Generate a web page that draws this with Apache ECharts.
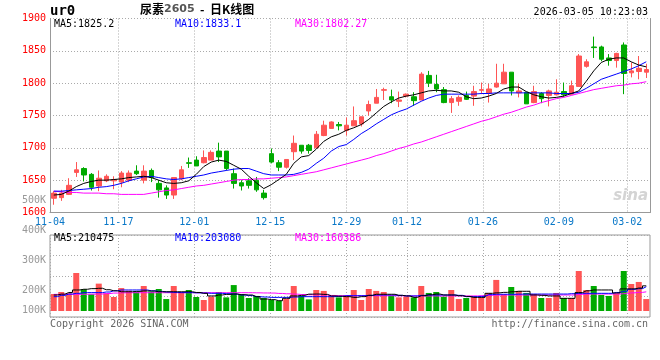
<!DOCTYPE html>
<html><head><meta charset="utf-8">
<script src="https://cdn.jsdelivr.net/npm/echarts@6/dist/echarts.min.js"></script>
<style>html,body{margin:0;padding:0;background:#fff}#c{width:660px;height:360px}</style>
</head><body><div id="c"></div>
<script>
const dates = ['11-04','11-05','11-06','11-07','11-10','11-11','11-12','11-13','11-14','11-17','11-18','11-19','11-20','11-21','11-24','11-25','11-26','11-27','11-28',
'12-01','12-02','12-03','12-04','12-05','12-08','12-09','12-10','12-11','12-12','12-15','12-16','12-17','12-18','12-19','12-22','12-23','12-24','12-25','12-26','12-29','12-30','12-31',
'01-05','01-06','01-07','01-08','01-09','01-12','01-13','01-14','01-15','01-16','01-19','01-20','01-21','01-22','01-23','01-26','01-27','01-28','01-29','01-30',
'02-02','02-03','02-04','02-05','02-06','02-09','02-10','02-11','02-12','02-13','02-24','02-25','02-26','02-27',
'03-02','03-03','03-04','03-05'];
const opens  = [1622,1623,1628,1662,1668,1659,1641,1649,1649,1647,1650,1664,1650,1665,1645,1638,1627,1652,1677,1681,1677,1681,1695,1695,1660,1646,1649,1650,1630,1691,1677,1670,1694,1704,1704,1700,1719,1730,1736,1727,1734,1737,1757,1769,1789,1779,1772,1780,1779,1774,1812,1798,1790,1770,1772,1781,1780,1789,1784,1794,1799,1817,1785,1786,1770,1784,1781,1782,1787,1783,1795,1826,1856,1856,1839,1835,1859,1816,1818,1817];
const closes = [1630,1630,1642,1666,1658,1639,1653,1656,1651,1661,1661,1660,1664,1654,1635,1627,1654,1666,1676,1672,1685,1693,1686,1668,1645,1641,1642,1635,1623,1678,1670,1682,1707,1695,1696,1721,1735,1740,1734,1735,1742,1748,1767,1778,1790,1774,1774,1783,1773,1814,1800,1791,1770,1776,1778,1775,1787,1790,1791,1800,1817,1788,1788,1768,1787,1776,1788,1786,1782,1796,1842,1833,1855,1837,1835,1846,1815,1819,1823,1821];
const lows   = [1612,1618,1627,1655,1648,1634,1633,1647,1636,1639,1647,1658,1645,1647,1623,1621,1621,1650,1669,1672,1676,1681,1678,1665,1637,1634,1637,1632,1620,1676,1664,1668,1681,1691,1691,1699,1718,1730,1727,1719,1734,1733,1750,1769,1774,1769,1763,1778,1765,1774,1794,1786,1769,1754,1765,1774,1765,1783,1770,1793,1799,1781,1778,1768,1769,1769,1764,1781,1779,1782,1795,1824,1839,1834,1827,1824,1783,1809,1806,1808];
const highs  = [1633,1635,1653,1678,1670,1661,1665,1659,1656,1664,1665,1673,1673,1668,1650,1642,1654,1672,1685,1687,1696,1696,1708,1695,1668,1650,1653,1655,1635,1699,1681,1682,1719,1704,1706,1726,1742,1741,1740,1747,1764,1748,1773,1791,1793,1790,1787,1784,1786,1817,1819,1813,1794,1780,1781,1787,1796,1801,1799,1830,1830,1817,1799,1786,1796,1786,1790,1806,1801,1804,1845,1837,1872,1858,1845,1847,1863,1832,1842,1830];
const ma5  = [1627,1628,1633,1640,1645,1648,1650,1650,1651,1652,1654,1655,1656,1654,1650,1646,1645,1646,1649,1659,1671,1678,1681,1679,1673,1667,1656,1646,1637,1643,1651,1659,1676,1686,1688,1698,1710,1717,1721,1727,1731,1736,1744,1754,1764,1771,1777,1780,1782,1785,1788,1789,1788,1788,1786,1779,1776,1777,1780,1784,1791,1794,1794,1787,1782,1779,1777,1778,1780,1784,1788,1803,1819,1832,1837,1839,1839,1833,1828,1825.2];
const ma10 = [1633,1633,1634,1635,1636,1637,1639,1640,1642,1645,1649,1652,1655,1656,1654,1652,1651,1652,1654,1656,1658,1661,1663,1665,1667,1668,1668,1664,1660,1658,1658,1658,1659,1662,1667,1676,1684,1695,1702,1705,1713,1722,1729,1737,1744,1751,1756,1760,1766,1772,1777,1781,1783,1783,1783,1783,1783,1784,1784,1785,1785,1785,1785,1785,1785,1785,1785,1784,1784,1784,1786,1792,1799,1806,1810,1814,1818,1822,1827,1833.1];
const ma30 = [1633,1632,1631,1631,1630,1630,1630,1629,1629,1628,1628,1628,1628,1630,1632,1634,1635,1637,1639,1641,1642,1644,1646,1648,1650,1651,1651,1652,1652,1653,1654,1655,1657,1659,1661,1663,1666,1669,1672,1675,1678,1681,1684,1688,1691,1695,1699,1702,1706,1709,1713,1717,1721,1725,1729,1733,1737,1741,1744,1748,1752,1755,1759,1763,1766,1770,1773,1776,1778,1781,1784,1787,1790,1792,1794,1796,1797,1799,1800,1802.27];
const volumes = [142000,159000,148000,318000,182000,140000,229000,148000,117000,192000,170000,162000,209000,162000,184000,100000,209000,154000,176000,117000,92000,120000,159000,114000,217000,142000,109000,126000,109000,92000,86000,100000,209000,126000,97000,176000,168000,128000,114000,128000,176000,92000,184000,168000,159000,128000,114000,120000,114000,209000,151000,159000,120000,176000,100000,109000,126000,114000,151000,260000,140000,201000,168000,151000,142000,109000,109000,151000,109000,109000,335000,176000,209000,134000,126000,148000,335000,226000,243000,100000];
const volMa5  = [134000,141000,155000,176000,182000,187000,190000,178000,169000,161000,161000,164000,168000,167000,161000,161000,161000,161000,161000,155000,148000,126000,134000,139000,142000,136000,134000,120000,100000,95000,86000,106000,126000,131000,141000,142000,139000,126000,124000,120000,114000,120000,131000,140000,140000,140000,131000,126000,114000,128000,136000,142000,134000,134000,128000,122000,114000,114000,148000,152000,156000,161000,165000,165000,134000,131000,126000,126000,106000,106000,154000,169000,176000,176000,176000,151000,185000,185000,192000,210475];
const volMa10 = [120000,131000,142000,148000,154000,154000,154000,159000,169000,176000,176000,176000,176000,169000,164000,159000,156000,154000,154000,152000,150000,148000,148000,145000,141000,134000,129000,120000,117000,114000,114000,114000,117000,120000,120000,120000,120000,120000,122000,128000,128000,128000,131000,134000,134000,134000,131000,126000,126000,131000,134000,134000,134000,134000,131000,120000,120000,122000,137000,140000,140000,140000,141000,142000,142000,142000,142000,142000,142000,145000,148000,148000,148000,148000,148000,155000,165000,182000,187000,203080];
const volMa30 = [139000,139000,139000,140000,140000,141000,142000,146000,150000,152000,153000,153000,153000,153000,153000,153000,153000,153000,153000,153000,153000,153000,153000,153000,153000,153000,153000,152000,151000,150000,147000,144000,141000,138000,136000,135000,134000,130000,128000,128000,128000,128000,128000,128000,128000,128000,127000,126000,126000,126000,126000,126000,126000,126000,126000,126000,126000,128000,131000,133000,134000,134000,134000,134000,134000,134000,134000,134000,134000,134000,138000,142000,142000,142000,142000,142000,145000,152000,156000,160386];
const dateTicks = ['11-04','11-17','12-01','12-15','12-29','01-12','01-26','02-09','03-02'];
const priceTicks = [1600,1650,1700,1750,1800,1850,1900];
const volTickLabels = ['100K','','200K','','','300K','','','400K','','','500K'];
const mainLegend = ['MA5:1825.2','MA10:1833.1','MA30:1802.27'];
const volLegend = ['MA5:210475','MA10:203080','MA30:160386'];
const maColors = ['#000000','#0000ff','#ff00ff'];

const UP = '#ff5555', DOWN = '#00aa00';
const MONO = 'DejaVu Sans Mono';
const DOT = {color:'#aaaaaa', type:[1,2], width:1};
const AXIS = {color:'#999999', width:1};
const showDate = (i, v) => dateTicks.indexOf(v) >= 0;
const VOL_MIN = -50200, VOL_MAX = 636000;

const kData = dates.map((d, i) => [opens[i], closes[i], lows[i], highs[i]]);
const legendX = [54, 175, 295];

const titles = [
  {text:'ur0', left:50, top:3, padding:0, textStyle:{fontFamily:MONO, fontWeight:'bold', fontSize:14, lineHeight:16, color:'#000'}},
  {text:'{a|尿素}{b|2605}{a|  -  日K线图}', left:140, top:2, padding:0,
   textStyle:{rich:{a:{fontFamily:'Noto Sans CJK SC', fontSize:12, lineHeight:15, color:'#000'},
                    b:{fontFamily:'DejaVu Sans', fontSize:11, lineHeight:15, color:'#555'}}}},
  {text:'2026-03-05 10:23:03', right:12, top:6, padding:0, textStyle:{fontFamily:MONO, fontSize:10, lineHeight:12, fontWeight:'normal', color:'#000'}},
  {text:'Copyright 2026 SINA.COM', left:50, top:318, padding:0, textStyle:{fontFamily:MONO, fontSize:10, lineHeight:12, fontWeight:'normal', color:'#666'}},
  {text:'http://finance.sina.com.cn', right:12, top:318, padding:0, textStyle:{fontFamily:MONO, fontSize:10, lineHeight:12, fontWeight:'normal', color:'#666'}},
  {text:'sina', right:12, top:188, padding:0, textStyle:{fontFamily:'DejaVu Sans', fontStyle:'italic', fontWeight:'bold', fontSize:15, lineHeight:16, color:'#d4d4d4'}}
];
mainLegend.forEach((t, k) => titles.push({text:t, left:legendX[k], top:18, padding:0,
  textStyle:{fontFamily:MONO, fontSize:10, lineHeight:12, fontWeight:'normal', color:maColors[k]}}));
volLegend.forEach((t, k) => titles.push({text:t, left:legendX[k], top:232, padding:0,
  textStyle:{fontFamily:MONO, fontSize:10, lineHeight:12, fontWeight:'normal', color:maColors[k]}}));

const maLine = (data, color, xi, yi, step) => ({type:'line', data, xAxisIndex:xi, yAxisIndex:yi, symbol:'none',
  step: step || false, lineStyle:{color, width:1}, z:5, silent:true});

const option = {
  animation:false,
  backgroundColor:'#ffffff',
  textStyle:{fontFamily:MONO},
  title:titles,
  grid:[
    {left:50, right:10, top:18.5, height:194},
    {left:50, right:10, top:235, height:82, show:true, borderColor:'#999999', borderWidth:1, backgroundColor:'transparent'},
    {left:50, right:10, top:200.7, height:110}
  ],
  xAxis:[
    {gridIndex:0, type:'category', data:dates, boundaryGap:true, show:false},
    {gridIndex:0, type:'category', data:dates, boundaryGap:false, position:'bottom',
     axisLine:{show:true, lineStyle:AXIS}, axisTick:{show:false},
     axisLabel:{interval:showDate, color:'#0a78c8', fontSize:10, fontFamily:MONO, margin:5},
     splitLine:{show:true, interval:showDate, lineStyle:DOT}},
    {gridIndex:1, type:'category', data:dates, boundaryGap:true, show:false},
    {gridIndex:1, type:'category', data:dates, boundaryGap:false, position:'bottom',
     axisLine:{show:false}, axisTick:{show:false}, axisLabel:{show:false},
     splitLine:{show:true, interval:showDate, lineStyle:DOT}},
    {gridIndex:2, type:'value', show:false}
  ],
  yAxis:[
    {gridIndex:0, type:'value', min:priceTicks[0], max:priceTicks[priceTicks.length-1], interval:priceTicks[1]-priceTicks[0], position:'left',
     axisLine:{show:true, lineStyle:AXIS}, axisTick:{show:false},
     axisLabel:{color:'#ff0000', fontSize:10, fontFamily:MONO, margin:4, padding:[0,0,3,0], formatter:v => String(v)},
     splitLine:{show:true, lineStyle:DOT}},
    {gridIndex:0, type:'value', min:priceTicks[0], max:priceTicks[priceTicks.length-1], position:'right',
     axisLine:{show:true, lineStyle:AXIS}, axisTick:{show:false}, axisLabel:{show:false}, splitLine:{show:false}},
    {gridIndex:1, type:'value', min:VOL_MIN, max:VOL_MAX, show:false},
    {gridIndex:1, type:'value', min:0, max:4, interval:1, position:'left',
     axisLine:{show:false}, axisTick:{show:false}, axisLabel:{show:false}, splitLine:{show:true, lineStyle:DOT}},
    {gridIndex:2, type:'category', data:volTickLabels, boundaryGap:false,
     axisLine:{show:false}, axisTick:{show:false}, splitLine:{show:false},
     axisLabel:{interval:0, color:'#999999', fontSize:10, fontFamily:MONO, margin:4}}
  ],
  series:[
    {type:'candlestick', data:kData, xAxisIndex:0, yAxisIndex:0, barWidth:5, silent:true,
     itemStyle:{color:UP, color0:DOWN, borderColor:UP, borderColor0:DOWN, borderWidth:1}},
    maLine(ma30, maColors[2], 0, 0),
    maLine(ma10, maColors[1], 0, 0),
    maLine(ma5, maColors[0], 0, 0),
    {type:'bar', data:volumes, xAxisIndex:2, yAxisIndex:2, barWidth:6, silent:true,
     itemStyle:{color:p => closes[p.dataIndex] >= opens[p.dataIndex] ? UP : DOWN}},
    maLine(volMa30, maColors[2], 2, 2, 'middle'),
    maLine(volMa10, maColors[1], 2, 2, 'middle'),
    maLine(volMa5, maColors[0], 2, 2, 'middle')
  ]
};
const chart = echarts.init(document.getElementById('c'), null, {renderer:'canvas', width:660, height:360});
chart.setOption(option);
</script>
</body></html>
